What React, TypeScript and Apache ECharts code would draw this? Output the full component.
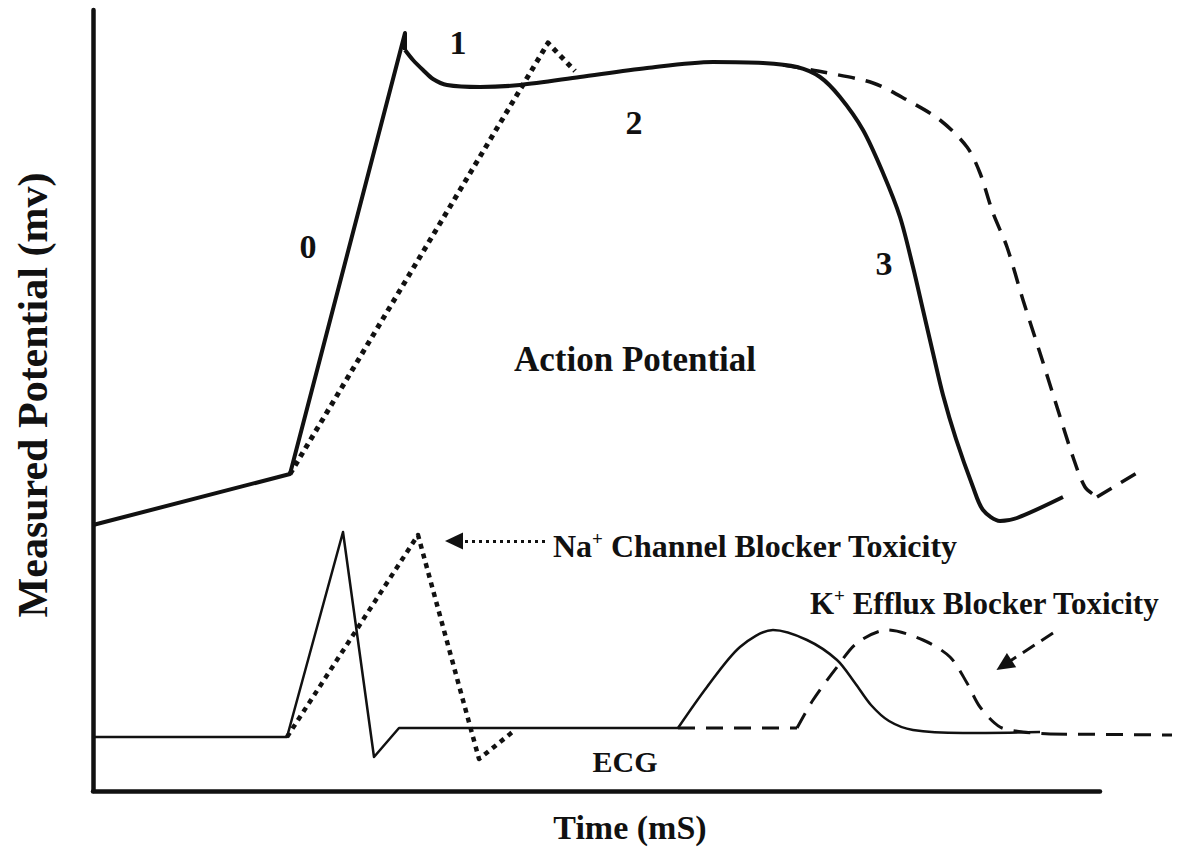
import React, { useEffect, useRef } from "react";
import * as echarts from "echarts";

// Time axis (arbitrary ms units) and potential axis (arbitrary mV units)
const timeRange = [0, 1007];
const plotTimeRange = [0, 1085];
const potentialRange = [0, 781];

// Action potential – normal (solid)
const apNormalUpstroke = [[0, 266], [197, 317], [312, 758], [312, 741]];
const apNormalPlateau = [
  [312, 741], [320, 731], [330, 721], [340, 712], [354, 706], [387, 704], [427, 706],
  [487, 714], [554, 723], [620, 729], [670, 728], [704, 724], [727, 714], [747, 694],
  [770, 661], [790, 618], [807, 574], [820, 524], [830, 481], [840, 438], [850, 396],
  [863, 352], [880, 304], [890, 281], [907, 270], [924, 273], [970, 294],
];
// Action potential – Na+ channel blocker (dotted)
const apNaBlocker = [[197, 317], [455, 748], [482, 720]];
// Action potential – K+ efflux blocker (dashed)
const apKBlockerCurve = [
  [690, 726], [730, 719], [780, 708], [814, 691], [847, 671], [874, 644], [887, 618],
  [900, 578], [914, 544], [930, 491], [947, 438], [964, 384], [980, 334], [992, 304], [1004, 294],
];
const apKBlockerTail = [[1004, 294], [1044, 318]];

// ECG – normal (solid)
const ecgNormalQRS = [[0, 54], [194, 54], [250, 259], [281, 34], [306, 63], [585, 63]];
const ecgNormalT = [
  [585, 63], [614, 104], [647, 144], [680, 161], [714, 151], [744, 131], [762, 108],
  [778, 86], [796, 70], [820, 61], [870, 58], [947, 59],
];
// ECG – Na+ channel blocker (dotted)
const ecgNaBlocker = [[194, 54], [325, 256], [386, 32], [422, 61]];
// ECG – K+ efflux blocker (dashed)
const ecgKBlockerFlat = [[585, 63], [704, 63]];
const ecgKBlockerT = [
  [704, 63], [720, 91], [744, 124], [764, 148], [794, 161], [830, 151], [857, 134],
  [874, 108], [887, 84], [907, 64], [930, 59], [957, 57],
];
const ecgKBlockerTail = [[957, 57], [1079, 56]];

// Annotation arrows [tail, head]
const naArrow = [[452, 250], [361, 250]];
const kArrow = [[960, 158], [911, 126]];

const FONT = "'Liberation Serif', 'Times New Roman', serif";
const INK = "#111";

function lineSeries(data: number[][], width: number, type: any, smooth: number | boolean = false) {
  return {
    type: "line",
    xAxisIndex: 1,
    yAxisIndex: 1,
    data,
    smooth,
    showSymbol: false,
    symbol: "none",
    clip: false,
    silent: true,
    lineStyle: { color: INK, width, type, cap: "butt", join: "round" },
  };
}

function text(str: string, x: number, y: number, size: number, extra: any = {}) {
  return {
    type: "text",
    x,
    y,
    silent: true,
    ...extra,
    style: {
      text: str,
      fontSize: size,
      fontWeight: "bold",
      fontFamily: FONT,
      fill: INK,
      align: "center",
      verticalAlign: "middle",
    },
  };
}

function supText(base: string, rest: string, x: number, y: number, size: number) {
  return {
    type: "text",
    x,
    y,
    silent: true,
    style: {
      text: `{a|${base}}{s|+}{a|${rest}}`,
      align: "left",
      verticalAlign: "middle",
      fill: INK,
      rich: {
        a: { fontSize: size, fontWeight: "bold", fontFamily: FONT, fill: INK, lineHeight: 34 },
        s: { fontSize: 19, fontWeight: "bold", fontFamily: FONT, fill: INK, verticalAlign: "top", lineHeight: 20 },
      },
    },
  };
}

const hiddenAxis = {
  axisLine: { show: false },
  axisTick: { show: false },
  axisLabel: { show: false },
  splitLine: { show: false },
};

export default function App() {
  const ref = useRef<HTMLDivElement>(null);
  useEffect(() => {
    if (!ref.current) return;
    const chart = echarts.init(ref.current, undefined, { renderer: "svg" });
    const dotted = [5, 5];
    const dashed = [17, 11];
    const arrowSeries = (pts: number[][], lt: any) => ({
      type: "line",
      xAxisIndex: 1,
      yAxisIndex: 1,
      data: [],
      silent: true,
      markLine: {
        silent: true,
        symbol: ["none", "triangle"],
        symbolSize: [17, 18],
        label: { show: false },
        lineStyle: { color: INK, width: 3, type: lt, cap: "butt" },
        data: [[{ coord: pts[0] }, { coord: pts[1] }]],
      },
    });
    const axisLine = { show: true, onZero: false, lineStyle: { color: INK, width: 4.5 } };
    chart.setOption({
      animation: false,
      backgroundColor: "#fff",
      grid: [
        { left: 93, top: 10, right: 80, bottom: 61, containLabel: false },
        { left: 93, top: 10, right: 2, bottom: 61, containLabel: false },
      ],
      xAxis: [
        { type: "value", gridIndex: 0, min: timeRange[0], max: timeRange[1], ...hiddenAxis, axisLine },
        { type: "value", gridIndex: 1, min: plotTimeRange[0], max: plotTimeRange[1], ...hiddenAxis },
      ],
      yAxis: [
        { type: "value", gridIndex: 0, min: potentialRange[0], max: potentialRange[1], ...hiddenAxis, axisLine },
        { type: "value", gridIndex: 1, min: potentialRange[0], max: potentialRange[1], ...hiddenAxis },
      ],
      series: [
        lineSeries(apNaBlocker, 5, dotted),
        lineSeries(apKBlockerCurve, 3.5, dashed, 0.3),
        lineSeries(apKBlockerTail, 3.5, dashed),
        lineSeries(apNormalUpstroke, 4, "solid"),
        lineSeries(apNormalPlateau, 4, "solid", 0.3),
        lineSeries(ecgNaBlocker, 4.5, dotted),
        lineSeries(ecgKBlockerFlat, 3, dashed),
        lineSeries(ecgKBlockerT, 3, dashed, 0.3),
        lineSeries(ecgKBlockerTail, 3, dashed),
        lineSeries(ecgNormalQRS, 2.5, "solid"),
        lineSeries(ecgNormalT, 2.5, "solid", 0.3),
        arrowSeries(naArrow, [3, 4]),
        arrowSeries(kArrow, [14, 8]),
      ],
      graphic: [
        text("Measured Potential (mv)", 33, 395, 42, { rotation: Math.PI / 2 }),
        text("Time (mS)", 630, 827, 34),
        text("0", 308, 246, 34),
        text("1", 458, 42, 34),
        text("2", 634, 122, 34),
        text("3", 884, 263, 34),
        text("Action Potential", 635, 359, 35),
        text("ECG", 625, 761, 30),
        supText("Na", " Channel Blocker Toxicity", 553, 546, 32),
        supText("K", " Efflux Blocker Toxicity", 810, 603, 31),
      ],
    });
    return () => chart.dispose();
  }, []);
  return (
    <div
      ref={ref}
      style={{ position: "absolute", left: 0, top: 0, width: 1180, height: 852, background: "#fff" }}
    />
  );
}
